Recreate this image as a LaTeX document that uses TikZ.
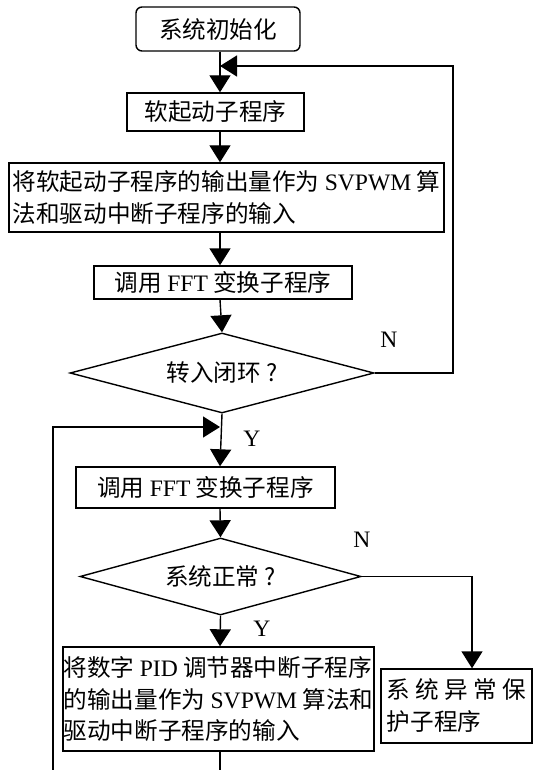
\documentclass[tikz,border=0pt]{standalone}
\usepackage{fontspec}
\setmainfont{Liberation Serif}
\newfontfamily\cjk{Noto Sans CJK SC}
\newcommand\lat[1]{{\rmfamily#1}}
\usetikzlibrary{shapes.geometric,arrows.meta}
\begin{document}
\begin{tikzpicture}[x=0.5pt,y=-0.5pt,line width=0.7pt,
  box/.style={draw,font=\cjk\fontsize{11.8}{16}\selectfont},
  lbox/.style={box,align=left},
  dbox/.style={box,diamond,shape aspect=3.8},
  arr/.style={-{Triangle[length=8.5pt,width=10.5pt]}},
  lbl/.style={font=\fontsize{11.8}{14}\selectfont}]
\tikzstyle{every node}+=[inner sep=0pt]
\useasboundingbox (0,0) rectangle (533,770);
\node [box,rounded corners=3pt,minimum width=82pt,minimum height=22pt] (init) at (218,29) {系统初始化};
\node [box,minimum width=88.5pt,minimum height=19pt] (soft) at (215.5,112) {软起动子程序};
\node [lbox,minimum width=217.5pt,minimum height=34.5pt] (map1) at (226.5,197.5) {将软起动子程序的输出量作为 \lat{SVPWM} 算\\法和驱动中断子程序的输入};
\node [box,minimum width=129pt,minimum height=16.5pt] (fft1) at (223,282.5) {调用 \lat{FFT} 变换子程序};
\node [dbox,minimum width=152pt,minimum height=40pt] (dec1) at (222,373) {转入闭环 ?};
\node [box,minimum width=129.5pt,minimum height=20.5pt] (fft2) at (205.5,487.5) {调用 \lat{FFT} 变换子程序};
\node [dbox,minimum width=140.5pt,minimum height=38.5pt] (dec2) at (220.5,576.5) {系统正常 ?};
\node [lbox,minimum width=155.5pt,minimum height=52pt] (map2) at (218.5,699) {将数字 \lat{PID} 调节器中断子程序\\的输出量作为 \lat{SVPWM} 算法和\\驱动中断子程序的输入};
\node [lbox,minimum width=75.5pt,minimum height=37pt] (prot) at (456.5,706) {系 统 异 常 保\hspace{4pt}\\护子程序};
\node [lbl] (n1) at (389,340) {N};
\node [lbl] (y1) at (252,439) {Y};
\node [lbl] (n2) at (362,540) {N};
\node [lbl] (y2) at (262,629) {Y};
\coordinate (axis) at (220,0);
\coordinate (nr) at (453,66);
\coordinate (pr) at (472,577);
\coordinate (lb) at (53,771);
\coordinate (lt) at (53,427);
\draw [arr] (init.south -| axis) -- (soft.north -| axis);
\draw [arr] (soft.south -| axis) -- (map1.north -| axis);
\draw [arr] (map1.south -| axis) -- (fft1.north -| axis);
\draw [arr] (fft1.south -| axis) -- (dec1.north);
\draw [arr] (dec1.east) -| (nr) -- (nr -| axis);
\draw [arr] (dec1.south) -- (fft2.north -| axis);
\draw [arr] (fft2.south -| axis) -- (dec2.north);
\draw [arr] (dec2.east) -| (pr |- prot.north);
\draw [arr] (dec2.south) -- (map2.north -| axis);
\draw [arr] (map2.south -| axis) |- (lb) -- (lt) -- (lt -| axis);
\end{tikzpicture}
\end{document}
